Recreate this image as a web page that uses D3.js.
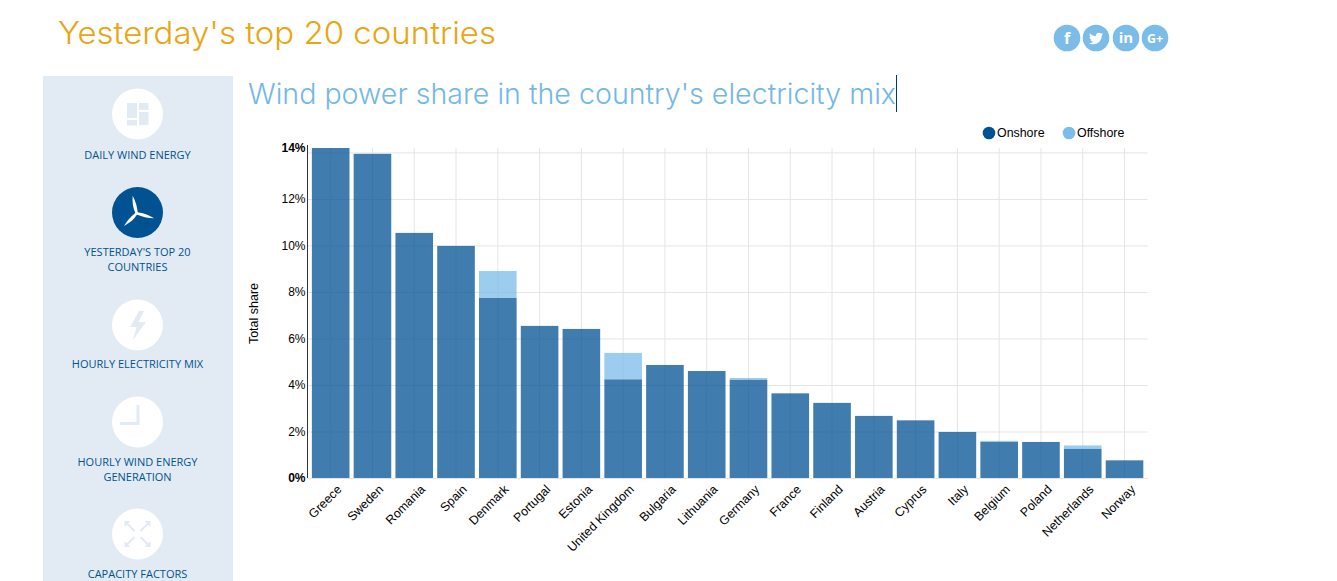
<!DOCTYPE html>
<html>
<head>
<meta charset="utf-8">
<script src="https://cdn.jsdelivr.net/npm/d3@7"></script>
<style>
    html, body { margin: 0; padding: 0; background: #fff; overflow: hidden; }
    svg { display: block; }
    .axis text { font-family: "Liberation Sans", Arial, sans-serif; font-size: 12.4px; fill: #000; }
    .axis-y text { font-size: 12px; }
    .grid line { stroke: #e5e5e5; }
    .grid path, .axis-y path, .axis-y line, .axis-x path, .axis-x line { display: none; }
    .nav-label { font-family: "Open Sans", sans-serif; font-size: 11px; fill: #00528f; text-anchor: middle; }
</style>
</head>
<body>
<svg id="chart" width="1337" height="581"></svg>
<script>
// Chart data
const countries = ["Greece", "Sweden", "Romania", "Spain", "Denmark", "Portugal", "Estonia",
    "United Kingdom", "Bulgaria", "Lithuania", "Germany", "France", "Finland", "Austria",
    "Cyprus", "Italy", "Belgium", "Poland", "Netherlands", "Norway"];
const onshore = [14.19, 13.94, 10.54, 9.98, 7.74, 6.54, 6.41, 4.24, 4.86, 4.6, 4.22, 3.64,
    3.23, 2.67, 2.48, 1.98, 1.55, 1.55, 1.25, 0.76];
const offshore = [0, 0, 0, 0, 1.16, 0, 0, 1.14, 0, 0, 0.08, 0, 0, 0, 0, 0, 0.05, 0, 0.15, 0];
const gridTicks = [0, 2, 4, 6, 8, 10, 12, 14];
const labelTicks = [0, 2, 4, 6, 8, 10, 12];
const legendItems = ["Onshore", "Offshore"];
const navItems = [
    ["DAILY WIND ENERGY"],
    ["YESTERDAY'S TOP 20", "COUNTRIES"],
    ["HOURLY ELECTRICITY MIX"],
    ["HOURLY WIND ENERGY", "GENERATION"],
    ["CAPACITY FACTORS"]
];

const darkBlue = "#005293";
const lightBlue = "#7cbce8";
const panel = "#e2ebf3";

const svg = d3.select("#chart");

// Headings
svg.append("text").attr("x", 58).attr("y", 44)
    .attr("font-family", "Inter, sans-serif").attr("font-size", 31).attr("font-weight", 300)
    .attr("textLength", 438).attr("lengthAdjust", "spacingAndGlyphs")
    .attr("fill", "#e8a612").text("Yesterday's top 20 countries");
svg.append("text").attr("x", 248).attr("y", 104)
    .attr("font-family", "Inter, sans-serif").attr("font-size", 28).attr("font-weight", 300)
    .attr("textLength", 648).attr("lengthAdjust", "spacingAndGlyphs")
    .attr("fill", "#74b8e6").text("Wind power share in the country's electricity mix");
svg.append("line").attr("x1", 896.5).attr("x2", 896.5).attr("y1", 75).attr("y2", 112)
    .attr("stroke", "#00386b").attr("stroke-width", 1);

// Social buttons
const social = svg.append("g");
[1067, 1096, 1126, 1155].forEach(x => {
    social.append("circle").attr("cx", x).attr("cy", 38).attr("r", 13.3).attr("fill", lightBlue);
});
const socialText = (x, size, t) => social.append("text").attr("x", x).attr("y", 38)
    .attr("dy", "0.36em").attr("text-anchor", "middle")
    .attr("font-family", "'Open Sans', sans-serif").attr("font-weight", 700)
    .attr("font-size", size).attr("fill", "#fff").text(t);
socialText(1067, 16, "f");
socialText(1126, 15, "in");
socialText(1155, 12.5, "G+");
social.append("path").attr("fill", "#fff")
    .attr("transform", "translate(1096,38) scale(0.88) translate(-1096,-38)")
    .attr("d", "M1104 33.5c-.6.3-1.2.4-1.9.5.7-.4 1.2-1 1.4-1.8-.6.4-1.3.6-2.1.8-.6-.6-1.5-1-2.4-1-2.1 0-3.7 2-3.2 4-2.7-.1-5.1-1.4-6.7-3.4-.9 1.5-.4 3.4 1 4.4-.5 0-1-.2-1.5-.4 0 1.6 1.1 3 2.6 3.3-.5.1-1 .2-1.5.1.4 1.3 1.6 2.2 3.1 2.3-1.4 1.1-3.2 1.6-4.9 1.4 1.5.9 3.2 1.5 5.1 1.5 6.2 0 9.7-5.2 9.5-9.9.6-.5 1.2-1.1 1.6-1.8z");

// Side menu
svg.append("rect").attr("x", 43).attr("y", 76).attr("width", 190).attr("height", 505).attr("fill", panel);
const navCx = 137.5;
const navCy = [114, 212.5, 325, 422, 534];
const navLabelY = [159, 256, 368, 466, 578];
navCy.forEach((cy, i) => {
    svg.append("circle").attr("cx", navCx).attr("cy", cy).attr("r", 25.5)
        .attr("fill", i === 1 ? darkBlue : "#fff");
    navItems[i].forEach((line, j) => {
        svg.append("text").attr("class", "nav-label").attr("x", navCx)
            .attr("y", navLabelY[i] + j * 14.5).text(line);
    });
});

// Menu icons
const icon = svg.append("g").attr("fill", panel);
[[127, 103, 10, 15], [139, 103, 9.5, 7], [127, 120, 10, 5.5], [139, 112, 9.5, 13]].forEach(r => {
    icon.append("rect").attr("x", r[0]).attr("y", r[1]).attr("width", r[2]).attr("height", r[3]);
});
svg.append("g").attr("fill", "#fff")
    .attr("transform", "translate(136.7,213.3)")
    .selectAll("path").data([-13, 106, 225]).join("path")
    .attr("transform", d => `rotate(${d})`)
    .attr("d", "M-1.2 -1 C-2.6 -6 -1.8 -12 0 -18 C1.8 -12 1.8 -6 1.2 -1 Z");
svg.append("circle").attr("cx", 136.7).attr("cy", 213.3).attr("r", 1.8).attr("fill", "#fff");
icon.append("path").attr("d", "M139 311 L130 327 L136.5 327 L133 340 L146 322 L138.5 322 L144 311 Z");
icon.append("path").attr("d", "M136.5 405 H139.5 V425 H120 V422 H136.5 Z");
const arrows = svg.append("g").attr("transform", `translate(${navCx},534)`);
[0, 90, 180, 270].forEach(a => {
    const g = arrows.append("g").attr("transform", `rotate(${a})`);
    g.append("line").attr("x1", 3).attr("y1", -3).attr("x2", 11).attr("y2", -11)
        .attr("stroke", panel).attr("stroke-width", 2);
    g.append("path").attr("d", "M7 -13 L13 -13 L13 -7 Z").attr("fill", panel);
});

// Scales
const x = d3.scaleBand().domain(countries).range([307.7, 1147.5]).padding(0.1);
const y = d3.scaleLinear().domain([0, d3.max(onshore)]).range([478, 148]);

// Grid
svg.append("g").attr("class", "grid")
    .attr("transform", "translate(307.7,0)")
    .call(d3.axisLeft(y).tickValues(gridTicks).tickSize(-839.8).tickFormat(""));
svg.append("g").attr("class", "grid")
    .attr("transform", "translate(0,478)")
    .call(d3.axisBottom(x).tickSize(-330).tickFormat(""));

// Bars
const rows = countries.map((c, i) => ({ country: c, on: onshore[i], off: offshore[i] }));
svg.append("g").selectAll("rect").data(rows).join("rect")
    .attr("x", d => x(d.country)).attr("width", x.bandwidth())
    .attr("y", d => y(d.on + d.off)).attr("height", d => y(0) - y(d.off))
    .attr("fill", lightBlue).attr("fill-opacity", 0.75);
svg.append("g").selectAll("rect").data(rows).join("rect")
    .attr("x", d => x(d.country)).attr("width", x.bandwidth())
    .attr("y", d => y(d.on)).attr("height", d => y(0) - y(d.on))
    .attr("fill", darkBlue).attr("fill-opacity", 0.75);

// Axes
const yAxis = svg.append("g").attr("class", "axis axis-y")
    .attr("transform", "translate(307.5,0)")
    .call(d3.axisLeft(y).tickValues(labelTicks.concat(y.domain()[1])).tickSize(0).tickPadding(2)
        .tickFormat(d => d3.format(".0f")(d) + "%"));
yAxis.selectAll("text").style("font-weight", d => (d === 0 || d === y.domain()[1]) ? "700" : "400");
svg.append("line").attr("x1", 307.5).attr("x2", 307.5).attr("y1", 145).attr("y2", 478)
    .attr("stroke", "#333");

const xAxis = svg.append("g").attr("class", "axis axis-x")
    .attr("transform", "translate(0,478)")
    .call(d3.axisBottom(x).tickSize(0));
xAxis.selectAll("text")
    .attr("text-anchor", "end")
    .attr("transform", "translate(5.5,6) rotate(-45)")
    .attr("dy", "0.7em").attr("y", 0);

svg.append("text")
    .attr("transform", "translate(258,313.5) rotate(-90)")
    .attr("text-anchor", "middle")
    .attr("font-family", "'Liberation Sans', Arial, sans-serif").attr("font-size", 12.5)
    .text("Total share");

// Legend
const legendX = [989, 1069];
legendItems.forEach((name, i) => {
    svg.append("circle").attr("cx", legendX[i]).attr("cy", 133).attr("r", 6.3)
        .attr("fill", i === 0 ? darkBlue : lightBlue);
    svg.append("text").attr("x", legendX[i] + 8).attr("y", 137)
        .attr("font-family", "'Liberation Sans', Arial, sans-serif").attr("font-size", 12.4)
        .text(name);
});
</script>
</body>
</html>
